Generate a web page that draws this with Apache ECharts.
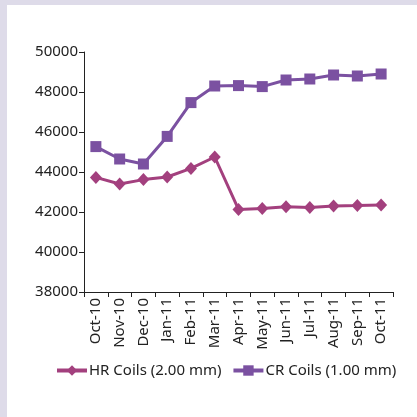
<!DOCTYPE html>
<html><head><meta charset="utf-8">
<script src="https://cdn.jsdelivr.net/npm/echarts@6/dist/echarts.min.js"></script>
<style>
html,body{margin:0;padding:0;background:#dedbe9;}
#frame{position:absolute;left:7px;top:5px;width:410px;height:412px;background:#fff;}
#c{position:absolute;left:0;top:0;width:417px;height:417px;}
</style></head>
<body><div id="frame"></div><div id="c"></div>
<script>
const categories = ['Oct-10','Nov-10','Dec-10','Jan-11','Feb-11','Mar-11','Apr-11','May-11','Jun-11','Jul-11','Aug-11','Sep-11','Oct-11'];
const hrCoils = [43730, 43400, 43620, 43750, 44180, 44750, 42130, 42170, 42260, 42230, 42300, 42320, 42350];
const crCoils = [45270, 44650, 44400, 45780, 47470, 48300, 48320, 48270, 48600, 48650, 48850, 48800, 48900];
const yTicks = {min: 38000, max: 50000, interval: 2000};

const font = 'Noto Sans';
const chart = echarts.init(document.getElementById('c'), null, {renderer:'canvas'});
chart.setOption({
  backgroundColor: 'transparent',
  animation: false,
  textStyle: {fontFamily: font},
  grid: {left: 84, right: 24, top: 52, bottom: 125, containLabel: false},
  legend: {
    top: 363, left: 55, padding: 0,
    itemWidth: 30, itemHeight: 13, itemGap: 10,
    lineStyle: {width: 4},
    textStyle: {fontFamily: font, fontSize: 15, color: '#222', padding: [0, 0, 0, -3]},
    data: ['HR Coils (2.00 mm)', 'CR Coils (1.00 mm)']
  },
  xAxis: {
    type: 'category', data: categories, boundaryGap: true,
    axisLine: {lineStyle: {color: '#222', width: 1}},
    axisTick: {show: true, length: 5, alignWithLabel: false, lineStyle: {color: '#222'}},
    axisLabel: {rotate: 90, fontFamily: font, fontSize: 15, color: '#222', margin: 6, interval: 0}
  },
  yAxis: {
    type: 'value', min: yTicks.min, max: yTicks.max, interval: yTicks.interval,
    axisLine: {show: true, lineStyle: {color: '#222', width: 1}},
    axisTick: {show: true, length: 5, lineStyle: {color: '#222'}},
    splitLine: {show: false},
    axisLabel: {fontFamily: font, fontSize: 15, color: '#222', margin: 6, formatter: v => String(v)}
  },
  series: [
    {name: 'HR Coils (2.00 mm)', type: 'line', data: hrCoils, color: '#a3407e',
     symbol: 'diamond', symbolSize: [12, 13], lineStyle: {width: 3},
     itemStyle: {color: '#a3407e'}},
    {name: 'CR Coils (1.00 mm)', type: 'line', data: crCoils, color: '#7b51a1',
     symbol: 'rect', symbolSize: 11, lineStyle: {width: 3},
     itemStyle: {color: '#7b51a1'}}
  ]
});
</script></body></html>
